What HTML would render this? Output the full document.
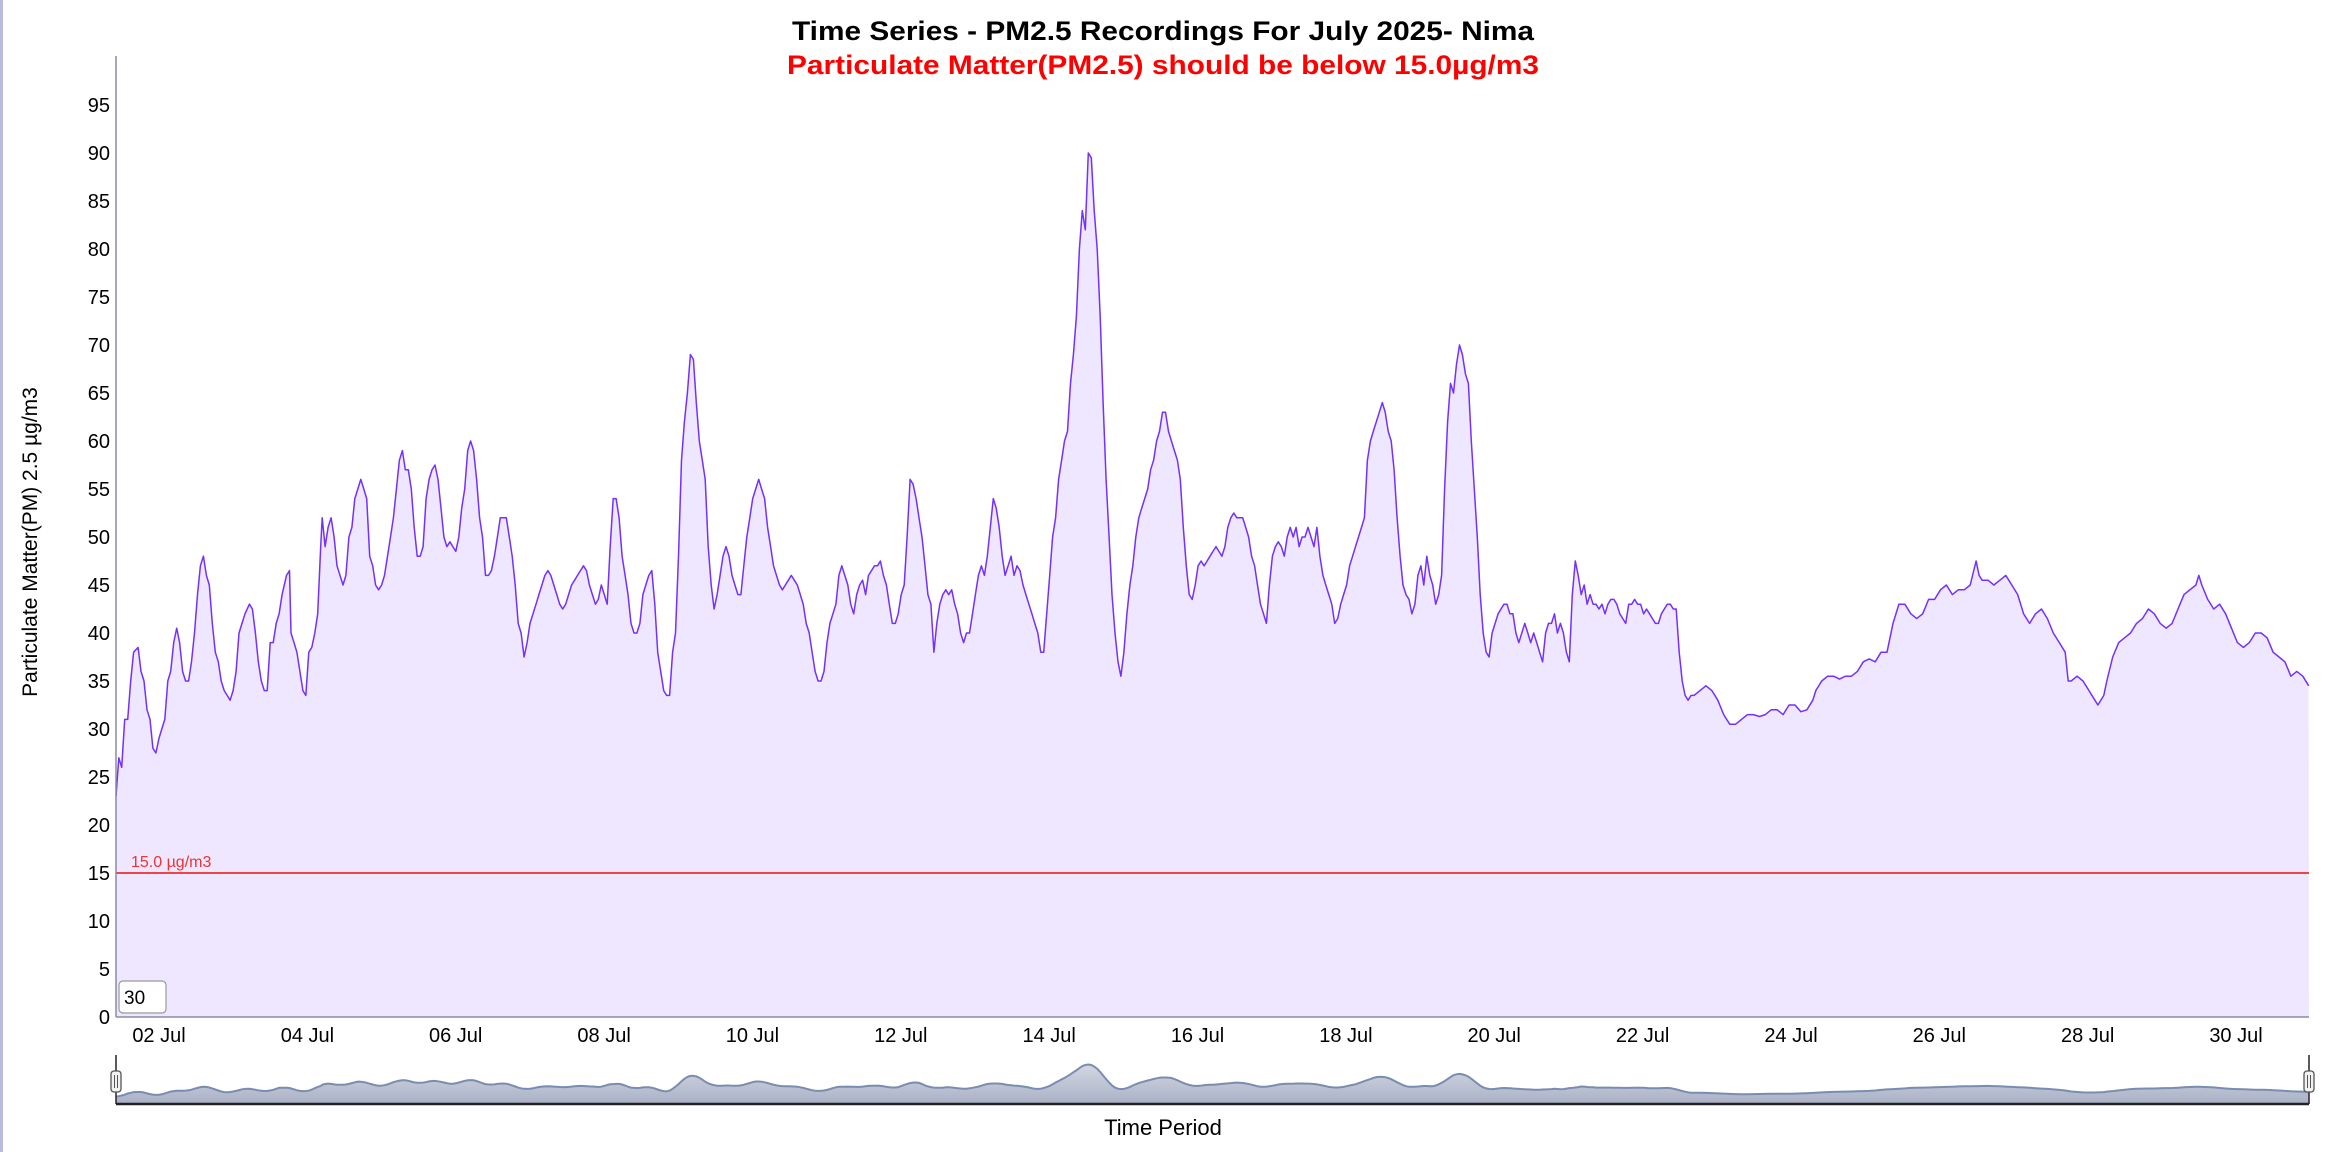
<!DOCTYPE html>
<html><head><meta charset="utf-8"><style>
html,body{margin:0;padding:0;background:#fff;}
svg{display:block;font-family:"Liberation Sans",Arial,sans-serif;}
</style></head><body>
<svg id="s" width="2328" height="1152" viewBox="0 0 2328 1152" xmlns="http://www.w3.org/2000/svg">
<defs>
<linearGradient id="ng" x1="0" y1="0" x2="0" y2="1">
<stop offset="0" stop-color="#d3d7e2"/><stop offset="1" stop-color="#a9b1c6"/>
</linearGradient>
</defs>
<rect x="0" y="0" width="3" height="1152" fill="#b9bddb"/>
<text x="1163" y="40" text-anchor="middle" font-size="27" font-weight="bold" fill="#000" textLength="742" lengthAdjust="spacingAndGlyphs">Time Series - PM2.5 Recordings For July 2025- Nima</text>
<text x="1163" y="74" text-anchor="middle" font-size="27" font-weight="bold" fill="#ff0000" textLength="752" lengthAdjust="spacingAndGlyphs">Particulate Matter(PM2.5) should be below 15.0µg/m3</text>
<g id="plot"></g>
<text transform="translate(37,542) rotate(-90)" text-anchor="middle" font-size="21" fill="#000">Particulate Matter(PM) 2.5 µg/m3</text>
<text x="1163" y="1135" text-anchor="middle" font-size="22" fill="#000">Time Period</text>
</svg>
<script>
var d=[78,23,80,27,82,26,84,31,86,31,88,35,90,38,93,38.5,95,36,97,35,99,32,101,31,103,28,105,27.5,107,29,109,30,111,31,113,35,115,36,117,39,119,40.5,121,39,123,36,125,35,127,35,129,37,131,40,133,44,135,47,137,48,139,46,141,45,143,41,145,38,147,37,149,35,151,34,153,33.5,155,33,157,34,159,36,161,40,163,41,165,42,168,43,170,42.5,172,40,174,37,176,35,178,34,180,34,182,39,184,39,186,41,188,42,190,44,193,46,195,46.5,196,40,198,39,200,38,202,36,204,34,206,33.5,208,38,210,38.5,212,40,214,42,216,49,217,52,219,49,221,51,223,52,225,50,227,47,229,46,231,45,233,46,235,50,237,51,239,54,241,55,243,56,245,55,247,54,249,48,251,47,253,45,255,44.5,257,45,259,46,261,48,263,50,265,52,267,55,269,58,271,59,273,57,275,57,277,55,279,51,281,48,283,48,285,49,287,54,289,56,291,57,293,57.5,295,56,297,53,299,50,301,49,303,49.5,305,49,307,48.5,309,50,311,53,313,55,315,59,317,60,319,59,321,56,323,52,325,50,327,46,329,46,331,46.5,333,48,335,50,337,52,339,52,341,52,343,50,345,48,347,45,349,41,351,40,353,37.5,355,39,357,41,359,42,361,43,363,44,365,45,367,46,369,46.5,371,46,373,45,375,44,377,43,379,42.5,381,43,383,44,385,45,387,45.5,389,46,391,46.5,393,47,395,46.5,397,45,399,44,401,43,403,43.5,405,45,407,44,409,43,411,49,413,54,415,54,417,52,419,48,421,46,423,44,425,41,427,40,429,40,431,41,433,44,435,45,437,46,439,46.5,441,43,443,38,445,36,447,34,449,33.5,451,33.5,453,38,455,40,457,48,459,58,461,62,463,65,465,69,467,68.5,469,64,471,60,473,58,475,56,477,49,479,45,481,42.5,483,44,485,46,487,48,489,49,491,48,493,46,495,45,497,44,499,44,501,47,503,50,505,52,507,54,509,55,511,56,513,55,515,54,517,51,519,49,521,47,523,46,525,45,527,44.5,529,45,531,45.5,533,46,535,45.5,537,45,539,44,541,43,543,41,545,40,547,38,549,36,551,35,553,35,555,36,557,39,559,41,561,42,563,43,565,46,567,47,569,46,571,45,573,43,575,42,577,44,579,45,581,45.5,583,44,585,46,587,46.5,589,47,591,47,593,47.5,595,46,597,45,599,43,601,41,603,41,605,42,607,44,609,45,611,50,613,56,615,55.5,617,54,619,52,621,50,623,47,625,44,627,43,629,38,631,41,633,43,635,44,637,44.5,639,44,641,44.5,643,43,645,42,647,40,649,39,651,40,653,40,655,42,657,44,659,46,661,47,663,46,665,48,667,51,669,54,671,53,673,51,675,48,677,46,679,47,681,48,683,46,685,47,687,46.5,689,45,691,44,693,43,695,42,697,41,699,40,701,38,703,38,705,42,707,46,709,50,711,52,713,56,715,58,717,60,719,61,721,66,723,69,725,73,727,80,729,84,731,82,733,90,735,89.5,737,84,739,80,741,73,743,64,745,56,747,50,749,44,751,40,753,37,755,35.5,757,38,759,42,761,45,763,47,765,50,767,52,769,53,771,54,773,55,775,57,777,58,779,60,781,61,783,63,785,63,787,61,789,60,791,59,793,58,795,56,797,51,799,47,801,44,803,43.5,805,45,807,47,809,47.5,811,47,813,47.5,815,48,817,48.5,819,49,821,48.5,823,48,825,49,827,51,829,52,831,52.5,833,52,835,52,837,52,839,51,841,50,843,48,845,47,847,45,849,43,851,42,853,41,855,45,857,48,859,49,861,49.5,863,49,865,48,867,50,869,51,871,50,873,51,875,49,877,50,879,50,881,51,883,50,885,49,887,51,889,48,891,46,893,45,895,44,897,43,899,41,901,41.5,903,43,905,44,907,45,909,47,911,48,913,49,915,50,917,51,919,52,921,58,923,60,925,61,927,62,929,63,931,64,933,63,935,61,937,60,939,57,941,52,943,48,945,45,947,44,949,43.5,951,42,953,43,955,46,957,47,959,45,961,48,963,46,965,45,967,43,969,44,971,46,973,55,975,62,977,66,979,65,981,68,983,70,985,69,987,67,989,66,991,60,993,55,995,50,997,44,999,40,1001,38,1003,37.5,1005,40,1007,41,1009,42,1011,42.5,1013,43,1015,43,1017,42,1019,42,1021,40,1023,39,1025,40,1027,41,1029,40,1031,39,1033,40,1035,39,1037,38,1039,37,1041,40,1043,41,1045,41,1047,42,1049,40,1051,41,1053,40,1055,38,1057,37,1059,44,1061,47.5,1063,46,1065,44,1067,45,1069,43,1071,44,1073,43,1075,43,1077,42.5,1079,43,1081,42,1083,43,1085,43.5,1087,43.5,1089,43,1091,42,1093,41.5,1095,41,1097,43,1099,43,1101,43.5,1103,43,1105,43,1107,42,1109,42.5,1111,42,1113,41.5,1115,41,1117,41,1119,42,1121,42.5,1123,43,1125,43,1127,42.5,1129,42.5,1131,38,1133,35,1135,33.5,1137,33,1139,33.5,1141,33.5,1145,34,1149,34.5,1153,34,1157,33,1161,31.5,1165,30.5,1169,30.5,1173,31,1177,31.5,1181,31.5,1185,31.3,1189,31.5,1193,32,1197,32,1201,31.5,1205,32.5,1209,32.5,1213,31.8,1217,32,1221,33,1223,34,1227,35,1231,35.5,1235,35.5,1239,35.2,1243,35.5,1247,35.5,1251,36,1255,37,1259,37.3,1263,37,1267,38,1271,38,1275,41,1279,43,1283,43,1287,42,1291,41.5,1295,42,1299,43.5,1303,43.5,1307,44.5,1311,45,1315,44,1319,44.5,1323,44.5,1327,45,1331,47.5,1333,46,1335,45.5,1339,45.5,1343,45,1347,45.5,1351,46,1355,45,1359,44,1363,42,1367,41,1371,42,1375,42.5,1379,41.5,1383,40,1387,39,1391,38,1393,35,1395,35,1399,35.5,1403,35,1407,34,1411,33,1413,32.5,1417,33.5,1419,35,1423,37.5,1427,39,1431,39.5,1435,40,1439,41,1443,41.5,1447,42.5,1451,42,1455,41,1459,40.5,1463,41,1467,42.5,1471,44,1475,44.5,1479,45,1481,46,1483,45,1487,43.5,1491,42.5,1495,43,1499,42,1503,40.5,1507,39,1511,38.5,1515,39,1519,40,1523,40,1527,39.5,1531,38,1535,37.5,1539,37,1543,35.5,1547,36,1551,35.5,1555,34.5];
var K=2328/1568,L=116,R=2309,B=1017,U=9.6;
function X(x){var v=x*K;return Math.max(L,Math.min(R,v));}
function Y(v){return B-U*v;}
var g='';
var pts=[];for(var i=0;i<d.length;i+=2)pts.push([X(d[i]),d[i+1]]);
var line='M'+pts.map(function(p){return p[0].toFixed(1)+','+Y(p[1]).toFixed(1)}).join('L');
g+='<path d="'+line+'L'+R+','+B+'L'+L+','+B+'Z" fill="#efe7ff"/>';
g+='<path d="'+line+'" fill="none" stroke="#7330ff" stroke-width="1.5" stroke-linejoin="round"/>';
g+='<line x1="'+L+'" y1="'+Y(15)+'" x2="'+R+'" y2="'+Y(15)+'" stroke="#ee4444" stroke-width="2"/>';
g+='<text x="131" y="867" font-size="16" fill="#ee3333">15.0 µg/m3</text>';
g+='<line x1="'+L+'" y1="56" x2="'+L+'" y2="'+B+'" stroke="#8a8aa8" stroke-width="1.5"/>';
for(var v=0;v<=95;v+=5){g+='<text x="110" y="'+(Y(v)+7)+'" text-anchor="end" font-size="20" fill="#000">'+v+'</text>';}
g+='<line x1="'+L+'" y1="'+B+'" x2="'+R+'" y2="'+B+'" stroke="#8a8aa8" stroke-width="1.5"/>';
for(var day=2;day<=30;day+=2){var x=159+(day-2)*74.18;g+='<text x="'+x.toFixed(1)+'" y="1042" text-anchor="middle" font-size="20" fill="#000">'+(day<10?'0':'')+day+' Jul</text>';}
g+='<rect x="119" y="981" width="47" height="32" rx="4" fill="#fff" stroke="#999" stroke-width="1.2"/>';
g+='<text x="124" y="1004" font-size="19" fill="#000">30</text>';
var NB=1104;
var sm=[];for(i=0;i<pts.length;i++){var s=0,c=0;for(var j=Math.max(0,i-3);j<=Math.min(pts.length-1,i+3);j++){s+=pts[j][1];c++;}sm.push([pts[i][0],s/c]);}
function NY(v){return NB-(v-13.6)*0.56;}
var nl='M'+sm.map(function(p){return p[0].toFixed(1)+','+NY(p[1]).toFixed(1)}).join('L');
g+='<path d="'+nl+'L'+R+','+NB+'L'+L+','+NB+'Z" fill="url(#ng)"/>';
g+='<path d="'+nl+'" fill="none" stroke="#7a8cb0" stroke-width="2"/>';
g+='<line x1="'+L+'" y1="'+NB+'" x2="'+R+'" y2="'+NB+'" stroke="#222" stroke-width="2.5"/>';
g+='<line x1="'+L+'" y1="1055" x2="'+L+'" y2="'+NB+'" stroke="#222" stroke-width="1.5"/>';
g+='<line x1="'+R+'" y1="1055" x2="'+R+'" y2="'+NB+'" stroke="#222" stroke-width="1.5"/>';
[L,R].forEach(function(hx){g+='<rect x="'+(hx-5)+'" y="1071" width="10" height="21" rx="3" fill="#f2f2f2" stroke="#555" stroke-width="1.3"/><line x1="'+(hx-1.5)+'" y1="1075" x2="'+(hx-1.5)+'" y2="1088" stroke="#555"/><line x1="'+(hx+1.5)+'" y1="1075" x2="'+(hx+1.5)+'" y2="1088" stroke="#555"/>';});
document.getElementById('plot').innerHTML=g;
</script>
</body></html>
